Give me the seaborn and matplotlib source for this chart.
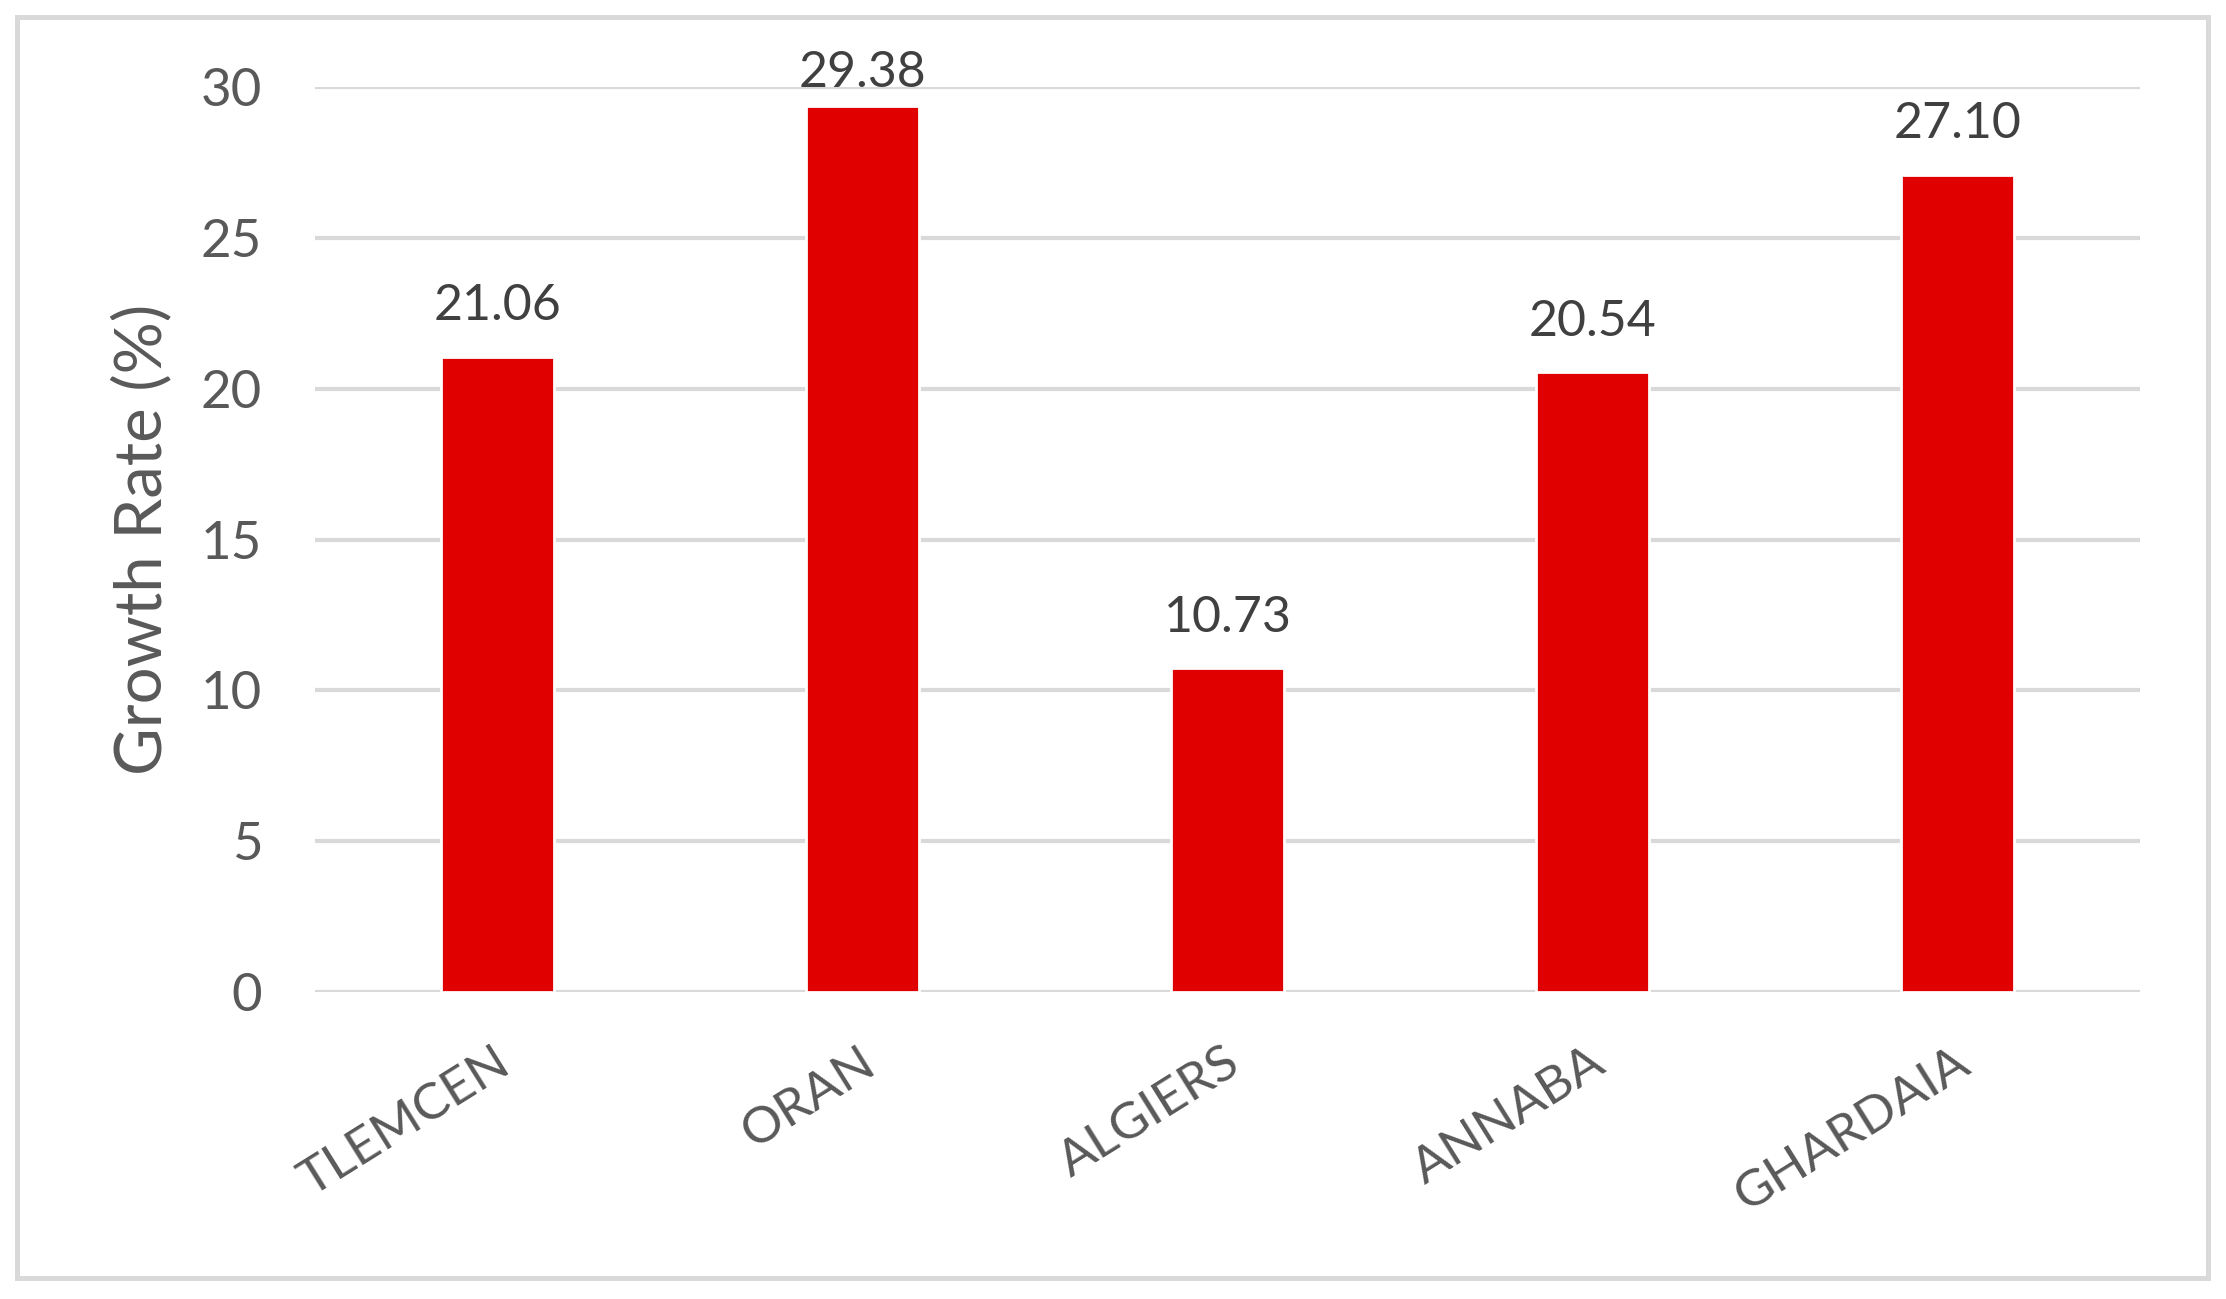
import seaborn as sns
import matplotlib.pyplot as plt
import matplotlib.transforms as mtransforms
from matplotlib.patches import Rectangle

cities = ["TLEMCEN", "ORAN", "ALGIERS", "ANNABA", "GHARDAIA"]
growth = [21.06, 29.38, 10.73, 20.54, 27.10]
y_ticks = [0, 5, 10, 15, 20, 25, 30]

# ORAN's label is pushed down a little so it stays inside the plot area
label_pad = [10, 3.5, 10, 10, 10]


def graficar(cities, growth):
    sns.set_theme(style="white")
    plt.rcParams["font.family"] = ["Lato", "DejaVu Sans"]

    fig = plt.figure(figsize=(11.13, 6.495), dpi=200)
    ax = fig.add_axes([0.1415, 0.2363, 0.8199, 0.6967])

    sns.barplot(x=cities, y=growth, color="#E00000", saturation=1,
                width=0.31, ax=ax)

    ax.set_ylim(0, 30)
    ax.set_yticks(y_ticks)
    ax.yaxis.grid(True, color="#D9D9D9", linewidth=1.5)
    ax.set_axisbelow(True)
    for s in ax.spines.values():
        s.set_visible(False)

    ax.tick_params(axis="y", length=0, pad=19, labelsize=19, labelcolor="#595959")
    ax.tick_params(axis="x", length=0, pad=24, labelsize=18.5, labelcolor="#595959")
    offset = mtransforms.ScaledTranslation(3 / 72, 0, fig.dpi_scale_trans)
    for lbl in ax.get_xticklabels():
        lbl.set_rotation(32)
        lbl.set_ha("right")
        lbl.set_va("center")
        lbl.set_rotation_mode("anchor")
        lbl.set_transform(lbl.get_transform() + offset)

    ax.set_ylabel("Growth Rate (%)", fontsize=23.5, color="#595959")
    ax.yaxis.set_label_coords(-0.078, 0.5)

    for bar, pad in zip(ax.patches, label_pad):
        ax.annotate(f"{bar.get_height():.2f}",
                    (bar.get_x() + bar.get_width() / 2, bar.get_height()),
                    xytext=(0, pad), textcoords="offset points",
                    ha="center", va="bottom", fontsize=18, color="#404040")

    fig.patches.append(Rectangle((17 / 2226, 1 - 1278 / 1299),
                                 (2208 - 17) / 2226, (1278 - 17) / 1299,
                                 transform=fig.transFigure, fill=False,
                                 edgecolor="#D9D9D9", linewidth=1.8))

    fig.savefig("out.png", dpi=200, facecolor="white")


if __name__ == "__main__":
    graficar(cities, growth)
